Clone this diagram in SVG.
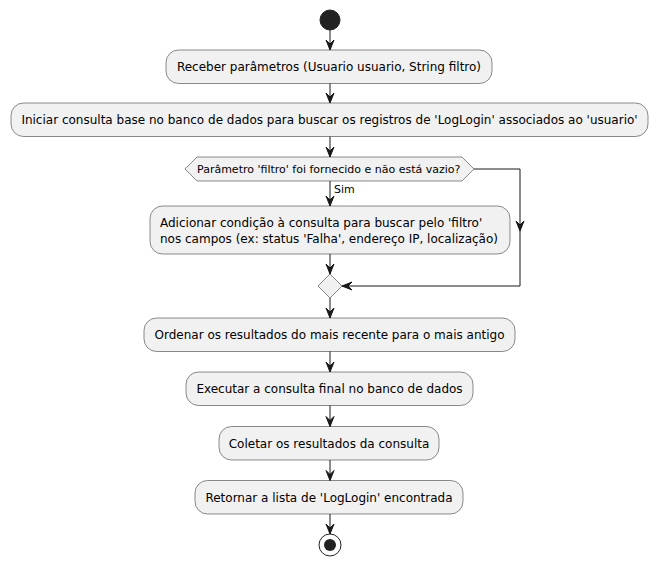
<svg xmlns="http://www.w3.org/2000/svg" width="658" height="566" viewBox="0 0 658 566">
<style>
.box{fill:#F1F1F1;stroke:#181818;stroke-width:0.5}
.t{font-family:"DejaVu Sans",sans-serif;font-size:12px;fill:#000;text-anchor:middle}
.s{font-family:"DejaVu Sans",sans-serif;font-size:11px;fill:#000}
.ln{stroke:#181818;stroke-width:1;fill:none}
.ah{fill:#181818;stroke:#181818;stroke-width:1}
</style>
<defs>
<path id="ad" d="M-4,-10 L0,0 L4,-10 L0,-6 Z"/>
<path id="al" d="M10,-4 L0,0 L10,4 L6,0 Z"/>
</defs>
<rect width="658" height="566" fill="#FFFFFF"/>
<g id="start"><circle cx="330" cy="20" r="10" fill="#222222" stroke="#222222"/></g>
<g id="n1"><rect class="box" x="166" y="50" width="326" height="33.5" rx="12.5"/><text class="t" x="329" y="71">Receber parâmetros (Usuario usuario, String filtro)</text></g>
<g id="n2"><rect class="box" x="11" y="103" width="637" height="33.5" rx="12.5"/><text class="t" x="329.5" y="124">Iniciar consulta base no banco de dados para buscar os registros de 'LogLogin' associados ao 'usuario'</text></g>
<g id="dec"><polygon class="box" points="185,169 197,157 462,157 474,169 462,181 197,181"/><text class="s" x="197" y="173">Parâmetro 'filtro' foi fornecido e não está vazio?</text></g>
<g id="n3"><rect class="box" x="150" y="206" width="360" height="48" rx="12.5"/><text class="t" x="160" y="227" style="text-anchor:start">Adicionar condição à consulta para buscar pelo 'filtro'</text><text class="t" x="160" y="243" style="text-anchor:start">nos campos (ex: status 'Falha', endereço IP, localização)</text></g>
<g id="merge"><polygon class="box" points="330,274 342,286 330,298 318,286"/></g>
<g id="n4"><rect class="box" x="144" y="318" width="371" height="33.5" rx="12.5"/><text class="t" x="329.5" y="339">Ordenar os resultados do mais recente para o mais antigo</text></g>
<g id="n5"><rect class="box" x="186" y="372" width="287" height="33.5" rx="12.5"/><text class="t" x="329.5" y="393">Executar a consulta final no banco de dados</text></g>
<g id="n6"><rect class="box" x="219" y="426.5" width="220" height="33.5" rx="12.5"/><text class="t" x="329" y="447.5">Coletar os resultados da consulta</text></g>
<g id="n7"><rect class="box" x="195" y="480.5" width="268" height="33.5" rx="12.5"/><text class="t" x="329" y="501.5">Retornar a lista de 'LogLogin' encontrada</text></g>
<g id="end"><circle cx="330" cy="545" r="11" fill="none" stroke="#222222" stroke-width="1"/><circle cx="330" cy="545" r="6" fill="#222222"/></g>
<g id="connectors">
<line class="ln" x1="330" y1="30" x2="330" y2="50"/><use href="#ad" class="ah" x="330" y="50"/>
<line class="ln" x1="330" y1="83.5" x2="330" y2="103"/><use href="#ad" class="ah" x="330" y="103"/>
<line class="ln" x1="330" y1="136.5" x2="330" y2="157"/><use href="#ad" class="ah" x="330" y="157"/>
<line class="ln" x1="330" y1="181" x2="330" y2="206"/><use href="#ad" class="ah" x="330" y="206"/>
<text class="s" x="334" y="192.5">Sim</text>
<line class="ln" x1="330" y1="254" x2="330" y2="274"/><use href="#ad" class="ah" x="330" y="274"/>
<polyline class="ln" points="474,169 520,169 520,286 342,286"/><use href="#ad" class="ah" x="520" y="231"/><use href="#al" class="ah" x="342" y="286"/>
<line class="ln" x1="330" y1="298" x2="330" y2="318"/><use href="#ad" class="ah" x="330" y="318"/>
<line class="ln" x1="330" y1="351.5" x2="330" y2="372"/><use href="#ad" class="ah" x="330" y="372"/>
<line class="ln" x1="330" y1="405.5" x2="330" y2="426.5"/><use href="#ad" class="ah" x="330" y="426.5"/>
<line class="ln" x1="330" y1="460" x2="330" y2="480.5"/><use href="#ad" class="ah" x="330" y="480.5"/>
<line class="ln" x1="330" y1="514" x2="330" y2="534"/><use href="#ad" class="ah" x="330" y="534"/>
</g>
</svg>
